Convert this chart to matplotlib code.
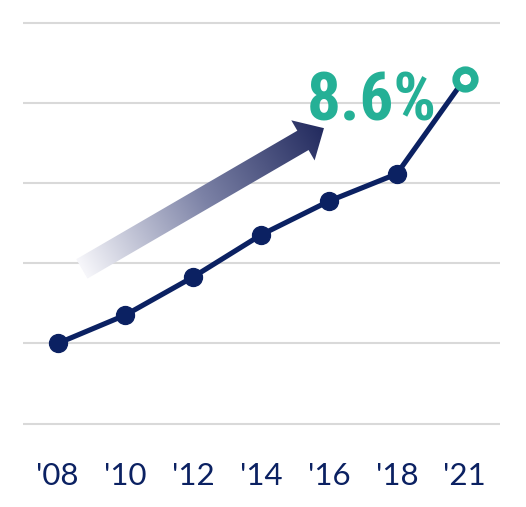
import numpy as np
import matplotlib.pyplot as plt
from matplotlib import font_manager
from matplotlib.patches import FancyArrowPatch, ArrowStyle
from matplotlib.colors import LinearSegmentedColormap

# data (gridlines every 2 points, 0..10)
years = ["'08", "'10", "'12", "'14", "'16", "'18", "'21"]
share = [2.0, 2.71, 3.66, 4.71, 5.55, 6.23, 8.6]
grid_vals = [0, 2, 4, 6, 8, 10]
final_label = '8.6%'

navy = '#0B2162'
teal = '#25B096'
grid_col = '#D9D9D9'

# narrowest bold family that is actually installed
installed = {f.name for f in font_manager.fontManager.ttflist}
candidates = ['Noto Sans ExtraCondensed', 'Roboto Condensed', 'DejaVu Sans Condensed',
              'Liberation Sans Narrow', 'Noto Sans Condensed', 'Noto Sans SemiCondensed']
big_font = next((c for c in candidates if c in installed), 'DejaVu Sans')

fig = plt.figure(figsize=(5.26, 5.07), dpi=100)
ax = fig.add_axes([0.0437, 0.1604, 0.9068, 0.7988])
x = np.arange(len(years))
xlim = (-0.51, 6.52)
ylim = (-0.05, 10.05)
ax.set_xlim(*xlim)
ax.set_ylim(*ylim)

# gridlines only, no spines
ax.set_yticks(grid_vals)
ax.yaxis.grid(True, color=grid_col, lw=1.5)
ax.set_axisbelow(True)
ax.tick_params(axis='y', left=False, labelleft=False)
ax.set_xticks(x, years)
ax.tick_params(axis='x', length=0, pad=26, labelsize=22.5, labelcolor=navy)
for lbl in ax.get_xticklabels():
    lbl.set_family('Lato')
for s in ax.spines.values():
    s.set_visible(False)

# the line, last point as open ring
ax.plot(x, share, color=navy, lw=3.7, marker='o', ms=12.9,
        markevery=list(range(len(x) - 1)), zorder=3, solid_capstyle='round')
ax.plot(x[-1], share[-1], 'o', ms=13.5, mfc='white', mec=teal, mew=5.4, zorder=6)

# gradient arrow
arrow_start = (0.358, 3.86)
arrow_end = (3.926, 7.37)
arrow = FancyArrowPatch(arrow_start, arrow_end,
                        arrowstyle=ArrowStyle.Simple(head_length=17.5, head_width=33.4, tail_width=16.1),
                        mutation_scale=1, shrinkA=0, shrinkB=0, fc='none', ec='none', zorder=2)
ax.add_patch(arrow)

gx = np.linspace(0.0, 4.4, 400)
gy = np.linspace(2.8, 8.6, 400)
GX, GY = np.meshgrid(gx, gy)
pts = ax.transData.transform(np.column_stack([GX.ravel(), GY.ravel()]))
p0 = ax.transData.transform(arrow_start)
p1 = ax.transData.transform(arrow_end)
d = p1 - p0
t = ((pts - p0) @ d) / (d @ d)
t = np.clip(t, 0, 1).reshape(GX.shape)
cmap = LinearSegmentedColormap.from_list('arr', [(0, '#F6F6FA'), (0.5, '#7C82A6'), (1, '#222A5E')])
img = ax.imshow(t, extent=(gx[0], gx[-1], gy[0], gy[-1]), origin='lower', cmap=cmap,
                aspect='auto', zorder=2, interpolation='bilinear')
img.set_clip_path(arrow)
ax.set_xlim(*xlim)
ax.set_ylim(*ylim)

# big value label, shrunk if the font is too wide for the gap left of the ring
txt = ax.text(3.67, 7.57, final_label, color=teal, fontsize=58, fontweight='bold',
              family=big_font, ha='left', va='baseline', zorder=5)
fig.canvas.draw()
w = txt.get_window_extent().width
if w > 130:
    txt.set_fontsize(58 * 130 / w)

fig.savefig('out.png', dpi=100)
